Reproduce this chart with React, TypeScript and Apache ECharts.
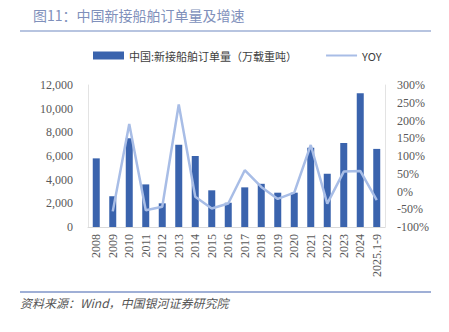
import React, { useEffect, useRef } from "react";
import * as echarts from "echarts";

const categories = ["2008","2009","2010","2011","2012","2013","2014","2015","2016","2017","2018","2019","2020","2021","2022","2023","2024","2025.1-9"];
const orders = [5800, 2600, 7500, 3600, 2000, 6950, 6000, 3100, 2050, 3350, 3650, 2900, 2900, 6700, 4500, 7100, 11300, 6600];
const yoy = [null, -56, 190, -53, -43, 245, -15, -48, -34, 60, 13, -21, -3, 131, -34, 56, 58, -24];
const leftTicks = { min: 0, max: 12000, interval: 2000 };
const rightTicks = { min: -100, max: 300, interval: 50 };

const seriesNames = ["中国:新接船舶订单量（万载重吨）", "YOY"];
const titleText = "图11：中国新接船舶订单量及增速";
const sourceText = "资料来源：Wind，中国银河证券研究院";

export default function App() {
  const ref = useRef<HTMLDivElement>(null);
  useEffect(() => {
    if (!ref.current) return;
    const chart = echarts.init(ref.current, null, { renderer: "svg" });
    const numFont = "Liberation Serif";
    const cjk = "Noto Sans CJK SC";
    chart.setOption({
      animation: false,
      backgroundColor: "#ffffff",
      graphic: [
        { type: "text", left: 33, top: 8, style: { text: titleText, fill: "#8090bb", fontFamily: cjk, fontSize: 14 } },
        { type: "line", shape: { x1: 20, y1: 31, x2: 431, y2: 31 }, style: { stroke: "#9fb1d6", lineWidth: 1.5 } },
        { type: "line", shape: { x1: 20, y1: 292, x2: 431, y2: 292 }, style: { stroke: "#7f95c8", lineWidth: 1.5 } },
        { type: "text", left: 20, top: 296, style: { text: sourceText, fill: "#555555", fontFamily: cjk, fontStyle: "italic", fontSize: 12 } },
      ],
      legend: {
        top: 50,
        left: 93,
        padding: 0,
        itemWidth: 31,
        itemHeight: 8,
        itemGap: 28,
        textStyle: { fontFamily: cjk, fontSize: 11, color: "#404040" },
        data: [
          { name: seriesNames[0], icon: "rect" },
          { name: seriesNames[1], itemStyle: { opacity: 0 } },
        ],
      },
      grid: { left: 88, right: 64, top: 85, bottom: 105 },
      xAxis: {
        type: "category",
        data: categories,
        axisTick: { show: false },
        axisLine: { lineStyle: { color: "#d9d9d9" } },
        axisLabel: { rotate: 90, interval: 0, color: "#595959", fontFamily: numFont, fontSize: 12, margin: 7 },
      },
      yAxis: [
        {
          type: "value",
          ...leftTicks,
          splitLine: { show: false },
          axisLine: { show: true, lineStyle: { color: "#e3e3e3" } },
          axisTick: { show: false },
          axisLabel: {
            color: "#595959", fontFamily: numFont, fontSize: 12, margin: 15,
            formatter: (v: number) => v.toLocaleString("en-US"),
          },
        },
        {
          type: "value",
          ...rightTicks,
          splitLine: { show: false },
          axisLine: { show: true, lineStyle: { color: "#e3e3e3" } },
          axisTick: { show: false },
          axisLabel: { color: "#595959", fontFamily: numFont, fontSize: 12, margin: 12, formatter: "{value}%" },
        },
      ],
      series: [
        {
          name: seriesNames[0],
          type: "bar",
          data: orders,
          barWidth: 7,
          itemStyle: { color: "#3a63ad" },
        },
        {
          name: seriesNames[1],
          type: "line",
          yAxisIndex: 1,
          data: yoy,
          symbol: "none",
          lineStyle: { color: "#a8bde6", width: 2.5 },
          itemStyle: { color: "#a8bde6" },
        },
      ],
    });
    return () => chart.dispose();
  }, []);
  return <div ref={ref} style={{ width: 449, height: 332, position: "absolute", left: 0, top: 0 }} />;
}
